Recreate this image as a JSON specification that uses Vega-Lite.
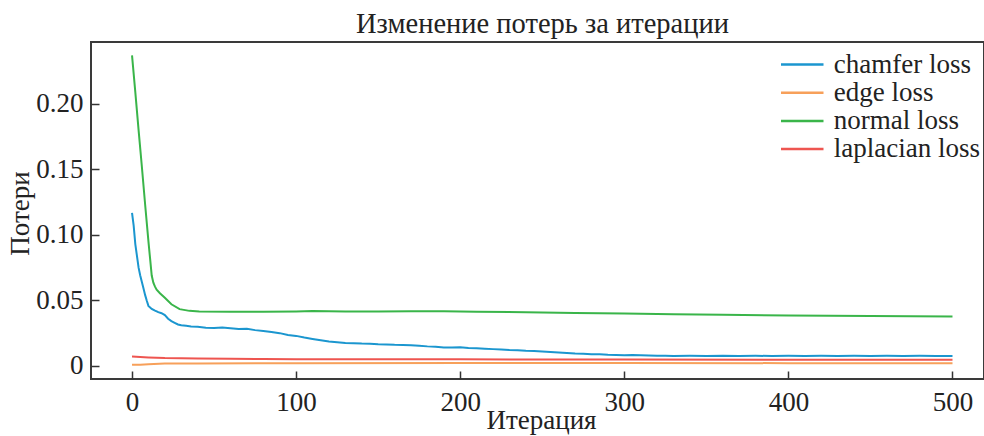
{
  "$schema": "https://vega.github.io/schema/vega-lite/v6.json",
  "width": 893,
  "height": 337,
  "autosize": {"type": "none"},
  "padding": {"left": 91, "top": 42, "right": 0, "bottom": 57},
  "background": "white",
  "title": {"text": "Изменение потерь за итерации", "font": "Liberation Serif", "fontSize": 28.5, "fontWeight": "normal", "color": "#222222", "anchor": "middle", "baseline": "alphabetic", "offset": 9, "dx": 5, "dy": 28},
  "config": {
    "view": {"stroke": "#3a3a3a", "strokeWidth": 2},
    "axis": {"domain": false, "grid": false, "ticks": true, "tickColor": "#333333", "tickWidth": 1.5, "tickSize": -8, "labelFont": "Liberation Serif", "labelFontSize": 27, "labelColor": "#222222", "titleFont": "Liberation Serif", "titleFontSize": 27, "titleFontWeight": "normal", "titleColor": "#222222"}
  },
  "data": {"values": [
    {"series": "chamfer loss", "iter": 0, "loss": 0.1167},
    {"series": "chamfer loss", "iter": 1, "loss": 0.107},
    {"series": "chamfer loss", "iter": 2, "loss": 0.093},
    {"series": "chamfer loss", "iter": 3, "loss": 0.084},
    {"series": "chamfer loss", "iter": 4, "loss": 0.075},
    {"series": "chamfer loss", "iter": 5, "loss": 0.069},
    {"series": "chamfer loss", "iter": 6, "loss": 0.064},
    {"series": "chamfer loss", "iter": 7, "loss": 0.059},
    {"series": "chamfer loss", "iter": 8, "loss": 0.054},
    {"series": "chamfer loss", "iter": 9, "loss": 0.0497},
    {"series": "chamfer loss", "iter": 10, "loss": 0.0458},
    {"series": "chamfer loss", "iter": 12, "loss": 0.0435},
    {"series": "chamfer loss", "iter": 14, "loss": 0.0422},
    {"series": "chamfer loss", "iter": 16, "loss": 0.041},
    {"series": "chamfer loss", "iter": 18, "loss": 0.0402},
    {"series": "chamfer loss", "iter": 20, "loss": 0.0388},
    {"series": "chamfer loss", "iter": 22, "loss": 0.036},
    {"series": "chamfer loss", "iter": 24, "loss": 0.0342},
    {"series": "chamfer loss", "iter": 26, "loss": 0.0329},
    {"series": "chamfer loss", "iter": 28, "loss": 0.0316},
    {"series": "chamfer loss", "iter": 30, "loss": 0.031},
    {"series": "chamfer loss", "iter": 33, "loss": 0.0306},
    {"series": "chamfer loss", "iter": 36, "loss": 0.0301},
    {"series": "chamfer loss", "iter": 40, "loss": 0.0298},
    {"series": "chamfer loss", "iter": 45, "loss": 0.0292},
    {"series": "chamfer loss", "iter": 50, "loss": 0.0289},
    {"series": "chamfer loss", "iter": 55, "loss": 0.0293},
    {"series": "chamfer loss", "iter": 60, "loss": 0.0287},
    {"series": "chamfer loss", "iter": 65, "loss": 0.0281},
    {"series": "chamfer loss", "iter": 70, "loss": 0.0284},
    {"series": "chamfer loss", "iter": 75, "loss": 0.0273},
    {"series": "chamfer loss", "iter": 80, "loss": 0.0266},
    {"series": "chamfer loss", "iter": 85, "loss": 0.0259},
    {"series": "chamfer loss", "iter": 90, "loss": 0.025},
    {"series": "chamfer loss", "iter": 95, "loss": 0.0236},
    {"series": "chamfer loss", "iter": 100, "loss": 0.0229},
    {"series": "chamfer loss", "iter": 105, "loss": 0.0216},
    {"series": "chamfer loss", "iter": 110, "loss": 0.0206},
    {"series": "chamfer loss", "iter": 115, "loss": 0.0196},
    {"series": "chamfer loss", "iter": 120, "loss": 0.0187},
    {"series": "chamfer loss", "iter": 125, "loss": 0.0181},
    {"series": "chamfer loss", "iter": 130, "loss": 0.0174},
    {"series": "chamfer loss", "iter": 135, "loss": 0.0173},
    {"series": "chamfer loss", "iter": 140, "loss": 0.017},
    {"series": "chamfer loss", "iter": 145, "loss": 0.0169},
    {"series": "chamfer loss", "iter": 150, "loss": 0.0165},
    {"series": "chamfer loss", "iter": 155, "loss": 0.0164},
    {"series": "chamfer loss", "iter": 160, "loss": 0.0161},
    {"series": "chamfer loss", "iter": 165, "loss": 0.016},
    {"series": "chamfer loss", "iter": 170, "loss": 0.0157},
    {"series": "chamfer loss", "iter": 175, "loss": 0.0154},
    {"series": "chamfer loss", "iter": 180, "loss": 0.0149},
    {"series": "chamfer loss", "iter": 185, "loss": 0.0146},
    {"series": "chamfer loss", "iter": 190, "loss": 0.0141},
    {"series": "chamfer loss", "iter": 195, "loss": 0.0141},
    {"series": "chamfer loss", "iter": 200, "loss": 0.0142},
    {"series": "chamfer loss", "iter": 205, "loss": 0.0137},
    {"series": "chamfer loss", "iter": 210, "loss": 0.0134},
    {"series": "chamfer loss", "iter": 215, "loss": 0.0131},
    {"series": "chamfer loss", "iter": 220, "loss": 0.0128},
    {"series": "chamfer loss", "iter": 225, "loss": 0.0125},
    {"series": "chamfer loss", "iter": 230, "loss": 0.0121},
    {"series": "chamfer loss", "iter": 235, "loss": 0.0119},
    {"series": "chamfer loss", "iter": 240, "loss": 0.0115},
    {"series": "chamfer loss", "iter": 245, "loss": 0.0114},
    {"series": "chamfer loss", "iter": 250, "loss": 0.011},
    {"series": "chamfer loss", "iter": 255, "loss": 0.0106},
    {"series": "chamfer loss", "iter": 260, "loss": 0.0102},
    {"series": "chamfer loss", "iter": 265, "loss": 0.0099},
    {"series": "chamfer loss", "iter": 270, "loss": 0.0094},
    {"series": "chamfer loss", "iter": 275, "loss": 0.0092},
    {"series": "chamfer loss", "iter": 280, "loss": 0.0089},
    {"series": "chamfer loss", "iter": 285, "loss": 0.0088},
    {"series": "chamfer loss", "iter": 290, "loss": 0.0085},
    {"series": "chamfer loss", "iter": 295, "loss": 0.0084},
    {"series": "chamfer loss", "iter": 300, "loss": 0.0082},
    {"series": "chamfer loss", "iter": 305, "loss": 0.0083},
    {"series": "chamfer loss", "iter": 310, "loss": 0.0081},
    {"series": "chamfer loss", "iter": 315, "loss": 0.008},
    {"series": "chamfer loss", "iter": 320, "loss": 0.0078},
    {"series": "chamfer loss", "iter": 325, "loss": 0.0078},
    {"series": "chamfer loss", "iter": 330, "loss": 0.0076},
    {"series": "chamfer loss", "iter": 340, "loss": 0.0077},
    {"series": "chamfer loss", "iter": 350, "loss": 0.0076},
    {"series": "chamfer loss", "iter": 360, "loss": 0.0078},
    {"series": "chamfer loss", "iter": 370, "loss": 0.0076},
    {"series": "chamfer loss", "iter": 380, "loss": 0.0077},
    {"series": "chamfer loss", "iter": 390, "loss": 0.0076},
    {"series": "chamfer loss", "iter": 400, "loss": 0.0077},
    {"series": "chamfer loss", "iter": 410, "loss": 0.0076},
    {"series": "chamfer loss", "iter": 420, "loss": 0.0077},
    {"series": "chamfer loss", "iter": 430, "loss": 0.0076},
    {"series": "chamfer loss", "iter": 440, "loss": 0.0077},
    {"series": "chamfer loss", "iter": 450, "loss": 0.0076},
    {"series": "chamfer loss", "iter": 460, "loss": 0.0077},
    {"series": "chamfer loss", "iter": 470, "loss": 0.0076},
    {"series": "chamfer loss", "iter": 480, "loss": 0.0077},
    {"series": "chamfer loss", "iter": 490, "loss": 0.0076},
    {"series": "chamfer loss", "iter": 500, "loss": 0.0076},
    {"series": "edge loss", "iter": 0, "loss": 0.0008},
    {"series": "edge loss", "iter": 5, "loss": 0.0009},
    {"series": "edge loss", "iter": 10, "loss": 0.0013},
    {"series": "edge loss", "iter": 20, "loss": 0.0018},
    {"series": "edge loss", "iter": 40, "loss": 0.0019},
    {"series": "edge loss", "iter": 100, "loss": 0.0021},
    {"series": "edge loss", "iter": 200, "loss": 0.0022},
    {"series": "edge loss", "iter": 300, "loss": 0.0022},
    {"series": "edge loss", "iter": 400, "loss": 0.0021},
    {"series": "edge loss", "iter": 500, "loss": 0.0021},
    {"series": "normal loss", "iter": 0, "loss": 0.237},
    {"series": "normal loss", "iter": 2, "loss": 0.209},
    {"series": "normal loss", "iter": 4, "loss": 0.18},
    {"series": "normal loss", "iter": 6, "loss": 0.152},
    {"series": "normal loss", "iter": 8, "loss": 0.123},
    {"series": "normal loss", "iter": 10, "loss": 0.095},
    {"series": "normal loss", "iter": 11, "loss": 0.082},
    {"series": "normal loss", "iter": 12, "loss": 0.069},
    {"series": "normal loss", "iter": 13, "loss": 0.0635},
    {"series": "normal loss", "iter": 14, "loss": 0.0605},
    {"series": "normal loss", "iter": 15, "loss": 0.0582},
    {"series": "normal loss", "iter": 17, "loss": 0.0555},
    {"series": "normal loss", "iter": 20, "loss": 0.052},
    {"series": "normal loss", "iter": 24, "loss": 0.047},
    {"series": "normal loss", "iter": 29, "loss": 0.0433},
    {"series": "normal loss", "iter": 35, "loss": 0.042},
    {"series": "normal loss", "iter": 41, "loss": 0.0415},
    {"series": "normal loss", "iter": 60, "loss": 0.0413},
    {"series": "normal loss", "iter": 80, "loss": 0.0413},
    {"series": "normal loss", "iter": 100, "loss": 0.0416},
    {"series": "normal loss", "iter": 110, "loss": 0.0419},
    {"series": "normal loss", "iter": 130, "loss": 0.0416},
    {"series": "normal loss", "iter": 150, "loss": 0.0415},
    {"series": "normal loss", "iter": 170, "loss": 0.0418},
    {"series": "normal loss", "iter": 190, "loss": 0.0417},
    {"series": "normal loss", "iter": 210, "loss": 0.0413},
    {"series": "normal loss", "iter": 240, "loss": 0.041},
    {"series": "normal loss", "iter": 270, "loss": 0.0404},
    {"series": "normal loss", "iter": 300, "loss": 0.0399},
    {"series": "normal loss", "iter": 330, "loss": 0.0394},
    {"series": "normal loss", "iter": 360, "loss": 0.039},
    {"series": "normal loss", "iter": 400, "loss": 0.0385},
    {"series": "normal loss", "iter": 450, "loss": 0.038},
    {"series": "normal loss", "iter": 500, "loss": 0.0377},
    {"series": "laplacian loss", "iter": 0, "loss": 0.0071},
    {"series": "laplacian loss", "iter": 10, "loss": 0.0065},
    {"series": "laplacian loss", "iter": 20, "loss": 0.006},
    {"series": "laplacian loss", "iter": 40, "loss": 0.0057},
    {"series": "laplacian loss", "iter": 60, "loss": 0.0054},
    {"series": "laplacian loss", "iter": 80, "loss": 0.0052},
    {"series": "laplacian loss", "iter": 100, "loss": 0.0051},
    {"series": "laplacian loss", "iter": 150, "loss": 0.005},
    {"series": "laplacian loss", "iter": 200, "loss": 0.005},
    {"series": "laplacian loss", "iter": 300, "loss": 0.0048},
    {"series": "laplacian loss", "iter": 400, "loss": 0.0047},
    {"series": "laplacian loss", "iter": 500, "loss": 0.0046}
  ]},
  "mark": {"type": "line", "strokeWidth": 2, "clip": true},
  "encoding": {
    "x": {"field": "iter", "type": "quantitative", "scale": {"domain": [-25, 519.2], "nice": false, "zero": false},
      "axis": {"values": [0, 100, 200, 300, 400, 500], "title": "Итерация", "labelPadding": 18, "titleX": 450, "titleY": 49, "titleBaseline": "alphabetic", "titleAlign": "center"}},
    "y": {"field": "loss", "type": "quantitative", "scale": {"domain": [-0.01, 0.2472], "nice": false, "zero": false},
      "axis": {"values": [0, 0.05, 0.1, 0.15, 0.2], "labelExpr": "datum.value == 0 ? '0' : format(datum.value, '.2f')", "title": "Потери", "labelPadding": 16, "titleX": -63, "titleY": 171, "titleAngle": 270, "titleBaseline": "alphabetic", "titleAlign": "center"}},
    "color": {"field": "series", "type": "nominal",
      "scale": {"domain": ["chamfer loss", "edge loss", "normal loss", "laplacian loss"], "range": ["#1b96cf", "#f7a05a", "#3ab54a", "#ee5550"]},
      "legend": {"title": null, "orient": "none", "legendX": 697.75, "legendY": 9, "symbolType": "M-2.5,0L2.5,0", "symbolSize": 289, "symbolStrokeWidth": 2.5, "symbolFillColor": "transparent", "labelFont": "Liberation Serif", "labelFontSize": 27, "labelColor": "#222222", "labelOffset": 18, "rowPadding": 0.2, "padding": 0}}
  }
}
